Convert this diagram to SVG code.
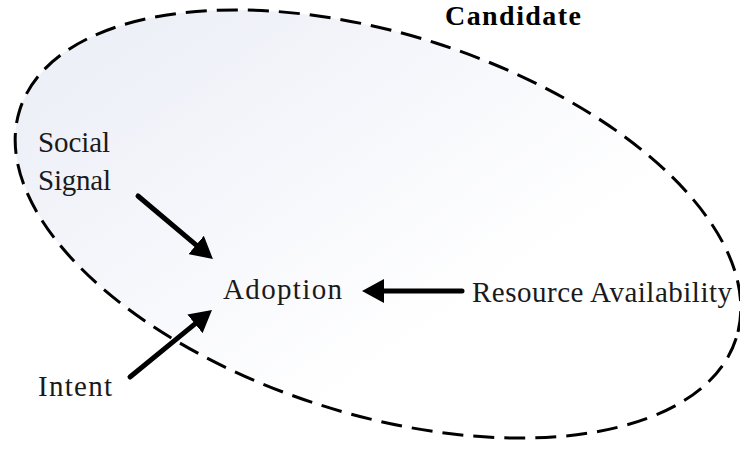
<svg xmlns="http://www.w3.org/2000/svg" width="740" height="449" viewBox="0 0 740 449">
  <defs>
    <linearGradient id="haze" gradientUnits="userSpaceOnUse" x1="150" y1="50" x2="470" y2="300">
      <stop offset="0" stop-color="#eef0f8"/>
      <stop offset="1" stop-color="#ffffff"/>
    </linearGradient>
    <marker id="head" viewBox="0 0 22 24" refX="6" refY="12" markerWidth="22" markerHeight="24" markerUnits="userSpaceOnUse" orient="auto">
      <path d="M0,0 L22,12 L0,24 z" fill="#000"/>
    </marker>
    <style>
      .label { font-family: "Liberation Serif", "Times New Roman", serif; font-size: 29px; fill: #1a1a1a; }
      .title { font-family: "Liberation Serif", "Times New Roman", serif; font-size: 28px; font-weight: bold; fill: #000; }
      .edge { stroke: #000; stroke-width: 5; stroke-linecap: round; fill: none; marker-end: url(#head); }
    </style>
  </defs>

  <rect width="740" height="449" fill="#ffffff"/>

  <!-- candidate boundary -->
  <g id="candidate">
    <ellipse cx="378" cy="224" rx="376" ry="190" transform="rotate(17.7 378 224)"
             fill="url(#haze)" stroke="#000" stroke-width="3" stroke-dasharray="21 10"/>
    <text class="title" x="445" y="25" textLength="136" lengthAdjust="spacing">Candidate</text>
  </g>

  <g id="social-signal">
    <text class="label" x="38" y="152" textLength="72" lengthAdjust="spacing">Social</text>
    <text class="label" x="38" y="190" textLength="73" lengthAdjust="spacing">Signal</text>
  </g>

  <g id="adoption">
    <text class="label" x="223" y="299" textLength="119" lengthAdjust="spacing">Adoption</text>
  </g>

  <g id="resource-availability">
    <text class="label" x="472" y="302" textLength="260" lengthAdjust="spacing">Resource Availability</text>
  </g>

  <g id="intent">
    <text class="label" x="38" y="396" textLength="74" lengthAdjust="spacing">Intent</text>
  </g>

  <g id="connectors">
    <path class="edge" d="M138,196 L200.7,248.8"/>
    <path class="edge" d="M130,377 L199.6,320.1"/>
    <path class="edge" d="M462,291 L378,291"/>
  </g>
</svg>
